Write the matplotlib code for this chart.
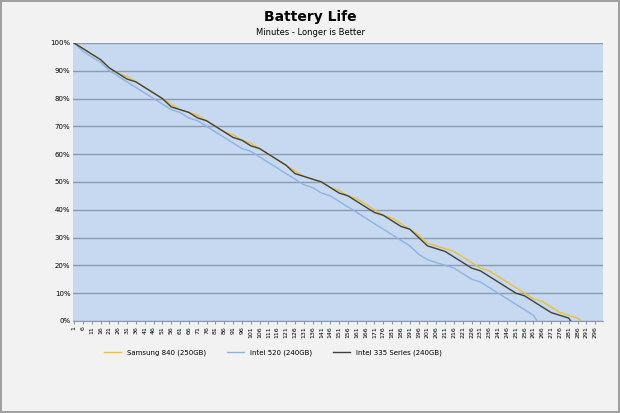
import numpy as np
import matplotlib
matplotlib.use('Agg')
from matplotlib import pyplot as plt

# battery % sampled every 5 minutes (minute 1, 6, 11, ...), last entry = minute it hit 0
samsung = [100, 98, 96, 94, 91, 89, 88, 86, 84, 82, 80, 78, 76, 75, 74, 72, 70, 68, 67, 65,
           64, 62, 60, 58, 56, 54, 52, 51, 50, 48, 47, 45, 44, 42, 40, 38, 37, 35, 33, 31,
           28, 27, 26, 25, 23, 21, 19, 18, 16, 14, 12, 10, 8, 7, 5, 3, 2, 1]
samsung_end = 288
intel520 = [100, 97, 95, 93, 90, 88, 86, 84, 82, 80, 78, 76, 75, 73, 72, 70, 68, 66, 64, 62,
            61, 59, 57, 55, 53, 51, 49, 48, 46, 45, 43, 41, 39, 37, 35, 33, 31, 29, 27, 24,
            22, 21, 20, 19, 17, 15, 14, 12, 10, 8, 6, 4, 2]
intel520_end = 263
intel335 = [100, 98, 96, 94, 91, 89, 87, 86, 84, 82, 80, 77, 76, 75, 73, 72, 70, 68, 66, 65,
            63, 62, 60, 58, 56, 53, 52, 51, 50, 48, 46, 45, 43, 41, 39, 38, 36, 34, 33, 30,
            27, 26, 25, 23, 21, 19, 18, 16, 14, 12, 10, 9, 7, 5, 3, 2, 1]
intel335_end = 282

series = [samsung, intel520, intel335]
ends = [samsung_end, intel520_end, intel335_end]
labels = ['Samsung 840 (250GB)', 'Intel 520 (240GB)', 'Intel 335 Series (240GB)']
colors = ['#f0c030', '#8db3e2', '#404040']

fig = plt.figure(figsize=(6.2, 4.13), dpi=100, facecolor='#f2f2f2', edgecolor='#a0a0a0', linewidth=1.5)
ax = fig.add_axes([0.118, 0.223, 0.855, 0.673])
ax.set_facecolor('#c6d9f1')

for vals, end, c, lab in zip(series, ends, colors, labels):
    x = list(range(1, 5 * len(vals), 5)) + [end]
    y = vals + [0]
    ax.plot(x, y, color=c, lw=1.0, label=lab)

ax.set_xlim(0.5, 300.5)
ax.set_ylim(0, 100)
ax.set_xticks(range(1, 300, 5))
ax.set_xticklabels(range(1, 300, 5), rotation=90, fontsize=4.5)
ax.set_yticks(range(0, 101, 10))
ax.set_yticklabels(['%d%%' % v for v in range(0, 101, 10)], fontsize=5)
ax.grid(axis='y', color='#8c9bb0', lw=1)
ax.set_axisbelow(True)
for s in ['top', 'right', 'left']:
    ax.spines[s].set_visible(False)
ax.spines['bottom'].set_color('#8c9bb0')
ax.tick_params(length=2, color='#8c9bb0', pad=2)
ax.tick_params(axis='y', length=0)

fig.text(0.5, 0.95, 'Battery Life', ha='center', fontsize=10, fontweight='bold')
fig.text(0.5, 0.915, 'Minutes - Longer is Better', ha='center', fontsize=6)
fig.legend(loc='center', bbox_to_anchor=(0.44, 0.147), ncol=3, frameon=False, fontsize=5,
           handlelength=2.5, columnspacing=3)
plt.savefig('out.png', dpi=100, facecolor=fig.get_facecolor(), edgecolor=fig.get_edgecolor())
